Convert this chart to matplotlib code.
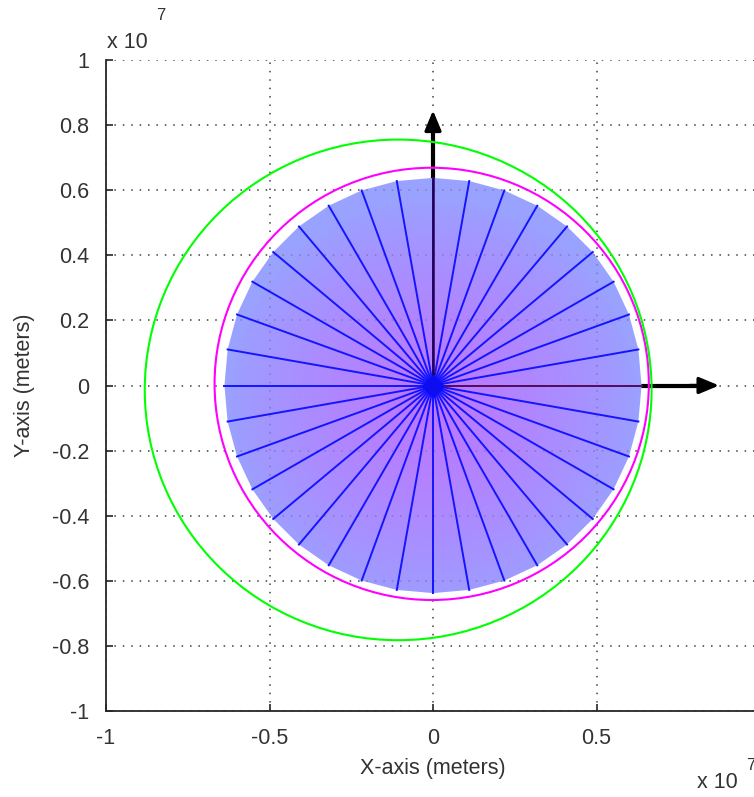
import numpy as np
import matplotlib
matplotlib.use("Agg")
import matplotlib.pyplot as plt
from matplotlib.patches import Circle, Ellipse, Polygon
from matplotlib.ticker import FuncFormatter

# ---- data ----
earth_radius = 6.378e6                      # filled disc radius (m)
spoke_angles_deg = np.arange(0, 360, 10)    # radial mesh lines
inner_orbit_center = (-0.04e6, 0.05e6)
inner_orbit_radius = 6.64e6                 # magenta orbit
outer_orbit_center = (-1.065e6, -0.135e6)
outer_orbit_axes = (15.5e6, 15.38e6)        # green orbit full width / height
x_arrow_tip = 8.75e6
y_arrow_tip = 8.45e6
x_ticks = [-1e7, -0.5e7, 0, 0.5e7, 1e7]
y_ticks = [-1e7, -0.8e7, -0.6e7, -0.4e7, -0.2e7, 0, 0.2e7, 0.4e7, 0.6e7, 0.8e7, 1e7]

W, H = 754, 797
fig = plt.figure(figsize=(W / 100, H / 100), dpi=100)
plt.rcParams['font.family'] = ['Liberation Sans', 'DejaVu Sans']
ax = fig.add_axes([106 / W, (H - 711) / H, 654 / W, 651 / H])
ax.set_xlim(-1e7, 1e7)
ax.set_ylim(-1e7, 1e7)

GRID_LS = (0, (1, 4.5))
# grid
for t in x_ticks:
    ax.axvline(t, color='0.25', lw=1.1, ls=GRID_LS, zorder=0.5)
for t in y_ticks:
    ax.axhline(t, color='0.25', lw=1.1, ls=GRID_LS, zorder=0.5)

# arrows (under disc)
ax.plot([0, x_arrow_tip * 0.95], [0, 0], color='black', lw=3, zorder=1, solid_capstyle='butt')
ax.plot([0, 0], [0, y_arrow_tip * 0.95], color='black', lw=3, zorder=1, solid_capstyle='butt')
ax.annotate('', xy=(x_arrow_tip, 0), xytext=(x_arrow_tip - 0.9e6, 0),
            arrowprops=dict(arrowstyle='-|>,head_length=1.2,head_width=0.5', color='black', lw=2.4,
                            shrinkA=0, shrinkB=0), zorder=1)
ax.annotate('', xy=(0, y_arrow_tip), xytext=(0, y_arrow_tip - 0.9e6),
            arrowprops=dict(arrowstyle='-|>,head_length=1.2,head_width=0.5', color='black', lw=2.4,
                            shrinkA=0, shrinkB=0), zorder=1)

# gradient disc (polygon of spoke endpoints)
ang = np.deg2rad(spoke_angles_deg)
verts = np.column_stack([earth_radius * np.cos(ang), earth_radius * np.sin(ang)])
poly = Polygon(verts, closed=True, facecolor='none', edgecolor='none', zorder=2)
ax.add_patch(poly)
n = 400
xs = np.linspace(-earth_radius, earth_radius, n)
X, Y = np.meshgrid(xs, xs)
r = np.sqrt(X ** 2 + (Y + 0.6e6) ** 2) / earth_radius
t = np.clip(1 - r, 0, 1) ** 0.75
edge = np.array([0.60, 0.64, 1.0])
center = np.array([0.74, 0.46, 1.0])
img = edge[None, None, :] * (1 - t[..., None]) + center[None, None, :] * t[..., None]
im = ax.imshow(img, extent=[-earth_radius, earth_radius, -earth_radius, earth_radius],
               origin='lower', zorder=2, interpolation='bilinear', aspect='auto')
im.set_clip_path(poly)

# faint grid showing through the disc (clipped to disc)
for tt in x_ticks:
    ln = ax.axvline(tt, color=(0.55, 0.45, 0.75), lw=1.1, ls=GRID_LS, zorder=2.1)
    ln.set_clip_path(poly)
for tt in y_ticks:
    ln = ax.axhline(tt, color=(0.55, 0.45, 0.75), lw=1.1, ls=GRID_LS, zorder=2.1)
    ln.set_clip_path(poly)

# spokes
for a in ang:
    ax.plot([0, earth_radius * np.cos(a)], [0, earth_radius * np.sin(a)],
            color=(0.08, 0.08, 1.0), lw=1.4, zorder=3)
# dark axis lines inside disc
ax.plot([0, earth_radius], [0, 0], color=(0.35, 0.05, 0.35), lw=1.4, zorder=3.1)
ax.plot([0, 0], [0, earth_radius], color=(0.15, 0.0, 0.3), lw=1.8, zorder=3.1)
ax.plot([0], [0], marker='D', color=(0.05, 0.05, 0.95), markersize=11, zorder=3.2)

# orbits
ax.add_patch(Circle(inner_orbit_center, inner_orbit_radius, fill=False,
                    edgecolor=(1, 0, 1), lw=1.5, zorder=4))
ax.add_patch(Ellipse(outer_orbit_center, outer_orbit_axes[0], outer_orbit_axes[1], fill=False,
                     edgecolor=(0, 1, 0), lw=1.5, zorder=4))

# axes styling
for s in ['top', 'right']:
    ax.spines[s].set_visible(False)
for s in ['left', 'bottom']:
    ax.spines[s].set_color('0.15')
    ax.spines[s].set_linewidth(1.3)
ax.set_xticks(x_ticks)
ax.set_yticks(y_ticks)
fmt = FuncFormatter(lambda v, p: '%g' % (v / 1e7))
ax.xaxis.set_major_formatter(fmt)
ax.yaxis.set_major_formatter(fmt)
ax.tick_params(direction='in', length=5, width=1.2, colors='0.15', labelsize=15.5,
               labelcolor='0.2')
ax.tick_params(axis='y', pad=12)
ax.tick_params(axis='x', pad=12)
ax.set_xlabel('X-axis (meters)', fontsize=15.5, color='0.2', labelpad=7)
ax.set_ylabel('Y-axis (meters)', fontsize=15.5, color='0.2', labelpad=12)

# exponent labels
fig.text(107 / W, 1 - 42 / H, 'x 10', fontsize=15.5, color='0.2', va='center', ha='left')
fig.text(156 / W, 1 - 15 / H, '7', fontsize=12, color='0.2', va='center', ha='left')
fig.text(697 / W, 1 - 782 / H, 'x 10', fontsize=15.5, color='0.2', va='center', ha='left')
fig.text(746 / W, 1 - 765 / H, '7', fontsize=12, color='0.2', va='center', ha='left')

fig.savefig('out.png', dpi=100)
